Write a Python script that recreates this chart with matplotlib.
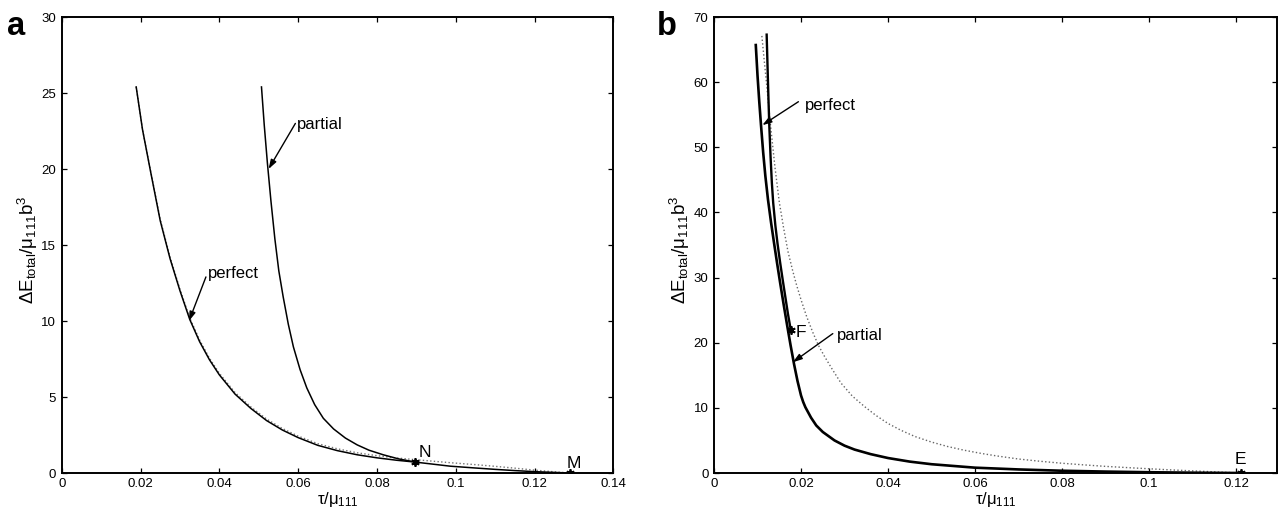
"""
两种位错（perfect / partial）总能量随 τ/μ111 变化的对比图
"""

import matplotlib
matplotlib.use('Agg')
import matplotlib.pyplot as plt
from matplotlib.ticker import FuncFormatter

plt.rcParams['font.family'] = ['Liberation Sans', 'DejaVu Sans']
plt.rcParams['mathtext.fontset'] = 'custom'
plt.rcParams['mathtext.rm'] = 'Liberation Sans'
plt.rcParams['mathtext.it'] = 'Liberation Sans:italic'
plt.rcParams['mathtext.bf'] = 'Liberation Sans:bold'

# ---- 图 a 数据 ----
a_perfect_x = [0.0189, 0.0205, 0.0225, 0.0250, 0.0275, 0.0300, 0.0325, 0.0350, 0.0375,
               0.0400, 0.0440, 0.0480, 0.0520, 0.0560, 0.0600, 0.0650, 0.0700, 0.0750,
               0.0800, 0.0850, 0.0897, 0.0986, 0.1050, 0.1100, 0.1150, 0.1200, 0.1250,
               0.1290]
a_perfect_y = [25.4, 22.6, 19.9, 16.6, 14.1, 12.0, 10.1, 8.64, 7.45,
               6.46, 5.19, 4.25, 3.45, 2.83, 2.33, 1.82, 1.47, 1.20,
               1.00, 0.84, 0.72, 0.45, 0.33, 0.24, 0.16, 0.09, 0.04,
               0.0]
a_dotted_y = [25.4, 22.6, 19.95, 16.7, 14.2, 12.1, 10.2, 8.75, 7.55,
              6.56, 5.29, 4.35, 3.55, 2.93, 2.43, 1.93, 1.59, 1.33,
              1.14, 0.99, 0.88, 0.68, 0.55, 0.44, 0.32, 0.19, 0.08,
              0.0]
a_partial_x = [0.0507, 0.0514, 0.0522, 0.0531, 0.0541, 0.0551, 0.0562, 0.0575, 0.0588,
               0.0605, 0.0622, 0.0642, 0.0664, 0.0690, 0.0720, 0.0750, 0.0780, 0.0816,
               0.0855, 0.0897]
a_partial_y = [25.4, 22.9, 20.4, 17.9, 15.4, 13.3, 11.6, 9.8, 8.3,
               6.8, 5.6, 4.5, 3.6, 2.9, 2.3, 1.85, 1.5, 1.2,
               0.93, 0.72]
a_points = {'N': (0.0897, 0.72), 'M': (0.129, 0.0)}

# ---- 图 b 数据 ----
b_perfect_x = [0.0096, 0.0100, 0.0104, 0.0108, 0.0113, 0.0118, 0.0124, 0.0131, 0.0138,
               0.0145, 0.0152, 0.0160, 0.0168, 0.0176, 0.0184, 0.0192, 0.0200, 0.0205,
               0.0210, 0.0223, 0.0235, 0.0250, 0.0277, 0.0300, 0.0323, 0.0360, 0.0400,
               0.0450, 0.0500, 0.0600, 0.0700, 0.0800, 0.0900, 0.1000, 0.1100, 0.1211]
b_perfect_y = [65.7, 61.0, 57.0, 53.4, 49.2, 45.6, 42.0, 38.5, 35.3,
               32.2, 29.2, 25.9, 22.7, 19.6, 16.7, 14.1, 11.9, 10.9,
               10.1, 8.5, 7.3, 6.3, 5.0, 4.2, 3.6, 2.9, 2.3,
               1.75, 1.35, 0.82, 0.55, 0.35, 0.22, 0.12, 0.05, 0.0]
b_partial_x = [0.0121, 0.0123, 0.0125, 0.0127, 0.0130, 0.0133, 0.0136, 0.0141, 0.0146,
               0.0152, 0.0158, 0.0164, 0.0170, 0.01763]
b_partial_y = [67.3, 62.5, 57.8, 53.4, 48.5, 44.5, 41.5, 38.0, 35.2,
               32.3, 29.6, 27.0, 24.4, 22.0]
b_dotted_x = [0.0110, 0.0115, 0.0121, 0.0130, 0.0140, 0.0150, 0.0160, 0.0170, 0.0181,
              0.0190, 0.0200, 0.0213, 0.0227, 0.0240, 0.0254, 0.0272, 0.0292, 0.0318,
              0.0346, 0.0372, 0.0400, 0.0430, 0.0462, 0.0500, 0.0538, 0.0575, 0.0615,
              0.0650, 0.0700, 0.0750, 0.0800, 0.0850, 0.0900, 0.0950, 0.1000, 0.1050,
              0.1100, 0.1150, 0.1211]
b_dotted_y = [67.1, 63.6, 59.6, 53.3, 47.0, 41.6, 37.6, 34.0, 31.0,
              28.8, 26.6, 24.0, 21.6, 19.6, 17.9, 15.9, 13.8, 11.8,
              10.2, 8.85, 7.6, 6.55, 5.6, 4.75, 4.05, 3.5, 3.0,
              2.62, 2.15, 1.8, 1.5, 1.25, 1.02, 0.83, 0.65, 0.48,
              0.33, 0.18, 0.0]
b_points = {'F': (0.01763, 22.0), 'E': (0.1211, 0.0)}

a_xticks = [0, 0.02, 0.04, 0.06, 0.08, 0.1, 0.12, 0.14]
a_yticks = [0, 5, 10, 15, 20, 25, 30]
b_xticks = [0, 0.02, 0.04, 0.06, 0.08, 0.1, 0.12]
b_yticks = [0, 10, 20, 30, 40, 50, 60, 70]

ylabel = 'ΔE$_{\\mathrm{total}}$/μ$_{111}$b$^{3}$'
xlabel = 'τ/μ$_{111}$'
star = (6, 2, 0)


def style_axes(ax, xticks, yticks, xlim, ylim):
    ax.set_xlim(*xlim)
    ax.set_ylim(*ylim)
    ax.set_xticks(xticks)
    ax.set_yticks(yticks)
    ax.xaxis.set_major_formatter(FuncFormatter(lambda v, p: '%g' % v))
    ax.yaxis.set_major_formatter(FuncFormatter(lambda v, p: '%g' % v))
    ax.tick_params(direction='in', length=3.5, width=0.9, top=True, right=True,
                   labelsize=9.5, pad=4)
    ax.tick_params(axis='x', pad=3.5)
    for s in ax.spines.values():
        s.set_linewidth(1.4)
    ax.set_xlabel(xlabel, fontsize=12, labelpad=0)
    ax.set_ylabel(ylabel, fontsize=13.5)
    ax.yaxis.set_label_coords(-0.04, 0.49)


def arrow(ax, tip, tail):
    ax.annotate('', xy=tip, xytext=tail,
                arrowprops=dict(arrowstyle='-|>,head_length=0.55,head_width=0.18',
                                color='black', lw=1.0, shrinkA=0, shrinkB=0))


fig = plt.figure(figsize=(12.78, 5.16), dpi=100)
ax1 = fig.add_axes([0.0483, 0.0833, 0.4316, 0.8837])
ax2 = fig.add_axes([0.5587, 0.0833, 0.4405, 0.8837])

# 图 a
ax1.plot(a_perfect_x, a_dotted_y, ':', color='0.45', lw=1.0)
ax1.plot(a_perfect_x, a_perfect_y, '-', color='black', lw=1.1)
ax1.plot(a_partial_x, a_partial_y, '-', color='black', lw=1.1)
for name, (px, py) in a_points.items():
    ax1.plot(px, py, marker=star, color='black', ms=6, mew=1.3)
ax1.text(0.0905, 0.85, 'N', fontsize=12.5, ha='left', va='bottom')
ax1.text(0.1282, 0.15, 'M', fontsize=12.5, ha='left', va='bottom')
ax1.text(0.0598, 22.9, 'partial', fontsize=12, ha='left', va='center')
arrow(ax1, (0.0525, 20.0), (0.0593, 23.0))
ax1.text(0.0372, 13.1, 'perfect', fontsize=12, ha='left', va='center')
arrow(ax1, (0.0323, 10.0), (0.0366, 12.9))
style_axes(ax1, a_xticks, a_yticks, (0, 0.14), (0, 30))

# 图 b
ax2.plot(b_dotted_x, b_dotted_y, ':', color='0.4', lw=1.0)
ax2.plot(b_perfect_x, b_perfect_y, '-', color='black', lw=1.9)
ax2.plot(b_partial_x, b_partial_y, '-', color='black', lw=1.7)
for name, (px, py) in b_points.items():
    ax2.plot(px, py, marker=star, color='black', ms=6, mew=1.3)
ax2.text(0.0187, 21.5, 'F', fontsize=12.5, ha='left', va='center')
ax2.text(0.1211, 0.9, 'E', fontsize=12.5, ha='center', va='bottom')
ax2.text(0.0208, 56.4, 'perfect', fontsize=12, ha='left', va='center')
arrow(ax2, (0.0111, 53.4), (0.0194, 57.0))
ax2.text(0.0282, 21.1, 'partial', fontsize=12, ha='left', va='center')
arrow(ax2, (0.0181, 17.0), (0.0273, 21.4))
style_axes(ax2, b_xticks, b_yticks, (0, 0.1294), (0, 70))

fig.text(0.0055, 0.932, 'a', fontsize=23.5, fontweight='bold', ha='left', va='baseline')
fig.text(0.514, 0.932, 'b', fontsize=23.5, fontweight='bold', ha='left', va='baseline')

plt.savefig('out.png', dpi=100)
